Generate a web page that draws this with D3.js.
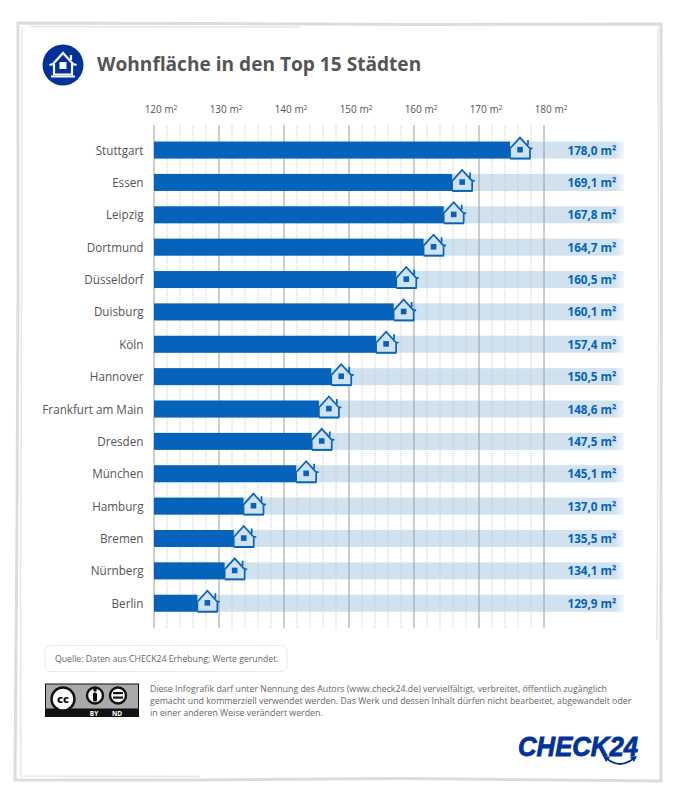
<!DOCTYPE html>
<html>
<head>
<meta charset="utf-8">
<script src="https://cdn.jsdelivr.net/npm/d3@7"></script>
<style>
    body { margin: 0; background: #fff; }
    text { font-family: "Open Sans", sans-serif; }
</style>
</head>
<body>
<div id="chart"></div>
<script>
const cities = ["Stuttgart", "Essen", "Leipzig", "Dortmund", "Düsseldorf", "Duisburg", "Köln", "Hannover",
    "Frankfurt am Main", "Dresden", "München", "Hamburg", "Bremen", "Nürnberg", "Berlin"];
const values = [178.0, 169.1, 167.8, 164.7, 160.5, 160.1, 157.4, 150.5, 148.6, 147.5, 145.1, 137.0, 135.5, 134.1, 129.9];
const majorTicks = [120, 130, 140, 150, 160, 170, 180];
const minorTicks = [122, 124, 126, 128, 132, 134, 136, 138, 142, 144, 146, 148, 152, 154, 156, 158, 162, 164, 166, 168, 172, 174, 176, 178];
const footerLines = [
    "Diese Infografik darf unter Nennung des Autors (www.check24.de) vervielfältigt, verbreitet, öffentlich zugänglich",
    "gemacht und kommerziell verwendet werden. Das Werk und dessen Inhalt dürfen nicht bearbeitet, abgewandelt oder",
    "in einer anderen Weise verändert werden."
];

const blue = "#0563bc", lightBlue = "#d0e1ef", navy = "#00329a", grey = "#555";

const svg = d3.select("#chart").append("svg")
    .attr("width", 690)
    .attr("height", 797)
    .style("display", "block");

// Band fades out at its right end
const fade = svg.append("defs").append("linearGradient")
    .attr("id", "bandFade")
    .attr("gradientUnits", "userSpaceOnUse")
    .attr("x1", 154).attr("x2", 624).attr("y1", 0).attr("y2", 0);
fade.append("stop").attr("offset", "0.98").attr("stop-color", lightBlue);
fade.append("stop").attr("offset", "1").attr("stop-color", lightBlue).attr("stop-opacity", 0.25);

// Sketchy frame
const frame = svg.append("g").attr("fill", "none").attr("stroke", "#dcdcda");
frame.append("path").attr("stroke-width", 3)
    .attr("d", "M18,23 L200,23.5 L420,24.5 L661,24 L661.5,250 L661,520 L661,781 L400,778.5 L200,780 L15,780 L17,520 L18,300 Z");
frame.append("path").attr("stroke-width", 1.5).attr("stroke", "#e6e6e4")
    .attr("d", "M22,27 L21.5,300 L20.5,600 L21,776 L200,776.5 M658,28 L658.5,300 L657,640 M30,26.5 L300,27");

// Header
const icon = svg.append("g").attr("transform", "translate(63,65)");
icon.append("circle").attr("r", 20.5).attr("fill", navy);
icon.append("path").attr("fill", "none").attr("stroke", "#fff").attr("stroke-width", 2.2)
    .attr("d", "M-13.5,0 L-10,-1 L0,-12 L10,-1 L13.5,0 M-9,-1 V9.5 H9 V-1 M8,-10 V-5");
icon.append("path").attr("fill", "none").attr("stroke", "#fff").attr("stroke-width", 2)
    .attr("d", "M-12,11.5 H12");
icon.append("rect").attr("x", -3.5).attr("y", -3).attr("width", 7).attr("height", 7).attr("fill", "#fff");

svg.append("text")
    .attr("x", 97).attr("y", 71)
    .attr("fill", grey)
    .style("font-size", "19.1px").style("font-weight", 700)
    .text("Wohnfläche in den Top 15 Städten");

// Scales
const x = d3.scaleLinear().domain([120, 180]).range([154, 544]);
const y = d3.scaleBand().domain(cities).range([133.8, 619.5]).paddingInner(0.475).paddingOuter(0.24);
const gridTop = 125, gridBottom = 628;

// Light background bands
svg.append("g").selectAll("rect").data(cities).join("rect")
    .attr("x", x(120))
    .attr("y", d => y(d))
    .attr("width", 624 - x(120))
    .attr("height", y.bandwidth())
    .attr("fill", "url(#bandFade)");

// Grid
svg.append("g").selectAll("line").data(minorTicks).join("line")
    .attr("x1", d => x(d)).attr("x2", d => x(d))
    .attr("y1", gridTop).attr("y2", gridBottom)
    .attr("stroke", "#c8c8c8")
    .attr("stroke-dasharray", "1,1");

svg.append("g").selectAll("line").data(majorTicks).join("line")
    .attr("x1", d => x(d)).attr("x2", d => x(d))
    .attr("y1", gridTop).attr("y2", gridBottom)
    .attr("stroke", "#9c9c9c");

// Tick labels
const tickLabels = svg.append("g").selectAll("text").data(majorTicks).join("text")
    .attr("x", d => x(d) + 7)
    .attr("y", 113)
    .attr("text-anchor", "middle")
    .attr("fill", grey)
    .style("font-size", "10px")
    .text(d => d + " m");
tickLabels.append("tspan").attr("dy", -3).style("font-size", "6.5px").text("2");

// Bars
const rows = svg.append("g").selectAll("g").data(cities).join("g");

rows.append("rect")
    .attr("x", x(120))
    .attr("y", d => y(d))
    .attr("width", (d, i) => x(values[i]) - x(120) - 21)
    .attr("height", y.bandwidth())
    .attr("fill", blue);

rows.append("text")
    .attr("x", 143.5)
    .attr("y", d => y(d) + y.bandwidth() / 2 + 4.5)
    .attr("text-anchor", "end")
    .attr("fill", grey)
    .style("font-size", "11.7px")
    .text(d => d);

rows.append("text")
    .attr("x", 616.5)
    .attr("y", d => y(d) + y.bandwidth() / 2 + 4.5)
    .attr("text-anchor", "end")
    .attr("fill", blue)
    .style("font-size", "11.7px")
    .style("font-weight", 700)
    .text((d, i) => d3.format(".1f")(values[i]).replace(".", ",") + " m²");

// House markers, right edge sits on the value
const houses = rows.append("g")
    .attr("transform", (d, i) => `translate(${x(values[i]) - 11},${y(d) + y.bandwidth() / 2})`);
houses.append("path")
    .attr("fill", lightBlue).attr("stroke", "none")
    .attr("d", "M-10,-3 L0,-12 L10,-3 V8 H-10 Z");
houses.append("path")
    .attr("fill", "none").attr("stroke", blue).attr("stroke-width", 1.7)
    .attr("d", "M-12.5,-1.5 L-9.5,-2 L0,-12.5 L9.5,-2 L12.5,-1.5 M-10,-2.5 V8 M10,-2.5 V8 M8,-10 V-5");
houses.append("path")
    .attr("fill", "none").attr("stroke", blue).attr("stroke-width", 2)
    .attr("d", "M-10,8.5 H10.5");
houses.append("rect")
    .attr("x", -2.8).attr("y", -3.2).attr("width", 5.6).attr("height", 5.6)
    .attr("fill", blue);

// Source box
svg.append("rect")
    .attr("x", 45).attr("y", 645.5).attr("width", 242).attr("height", 26).attr("rx", 6)
    .attr("fill", "none").attr("stroke", "#c8c8c8").attr("stroke-dasharray", "1,1.5");
svg.append("text")
    .attr("x", 55).attr("y", 662)
    .attr("fill", "#666")
    .style("font-size", "8.7px")
    .text("Quelle: Daten aus CHECK24 Erhebung; Werte gerundet.");

// CC badge
const cc = svg.append("g").attr("transform", "translate(45,683.5)");
cc.append("rect").attr("width", 94).attr("height", 33.5).attr("fill", "#111");
cc.append("rect").attr("x", 1).attr("y", 1).attr("width", 92).attr("height", 24).attr("fill", "#aaa");
[[18, 15.5, 11.5], [50, 12, 8], [73, 12, 8]].forEach(c => {
    cc.append("circle").attr("cx", c[0]).attr("cy", c[1]).attr("r", c[2])
        .attr("fill", "#fff").attr("stroke", "#111").attr("stroke-width", 2.4);
});
cc.append("text").attr("x", 18).attr("y", 19.5).attr("text-anchor", "middle")
    .attr("fill", "#111").style("font-size", "11px").style("font-weight", 800).text("cc");
cc.append("rect").attr("x", 48).attr("y", 9).attr("width", 4).attr("height", 9).attr("rx", 1.5).attr("fill", "#111");
cc.append("circle").attr("cx", 50).attr("cy", 6.5).attr("r", 1.8).attr("fill", "#111");
cc.append("rect").attr("x", 68).attr("y", 8.5).attr("width", 10).attr("height", 2.2).attr("fill", "#111");
cc.append("rect").attr("x", 68).attr("y", 13).attr("width", 10).attr("height", 2.2).attr("fill", "#111");
cc.append("text").attr("x", 49).attr("y", 32).attr("text-anchor", "middle")
    .attr("fill", "#fff").style("font-size", "6.5px").style("font-weight", 700).text("BY");
cc.append("text").attr("x", 72).attr("y", 32).attr("text-anchor", "middle")
    .attr("fill", "#fff").style("font-size", "6.5px").style("font-weight", 700).text("ND");

// Licence text
svg.append("g").selectAll("text").data(footerLines).join("text")
    .attr("x", 150)
    .attr("y", (d, i) => 691.5 + i * 12.2)
    .attr("fill", "#666")
    .style("font-size", "8.8px")
    .text(d => d);

// Logo
const logo = svg.append("g");
logo.append("text")
    .attr("x", 518).attr("y", 756)
    .attr("textLength", 120)
    .attr("lengthAdjust", "spacingAndGlyphs")
    .attr("fill", navy).attr("stroke", navy).attr("stroke-width", 0.8)
    .style("font-family", "'Liberation Sans', sans-serif")
    .style("font-size", "27px").style("font-weight", 700).style("font-style", "italic")
    .text("CHECK24");
logo.append("path")
    .attr("fill", "none").attr("stroke", navy).attr("stroke-width", 1.8)
    .attr("d", "M606,758 Q620,770 634,758");
logo.append("path").attr("fill", navy).attr("d", "M603,756 L610,757 L606,762 Z M637,756 L630,757 L634,762 Z");
</script>
</body>
</html>
